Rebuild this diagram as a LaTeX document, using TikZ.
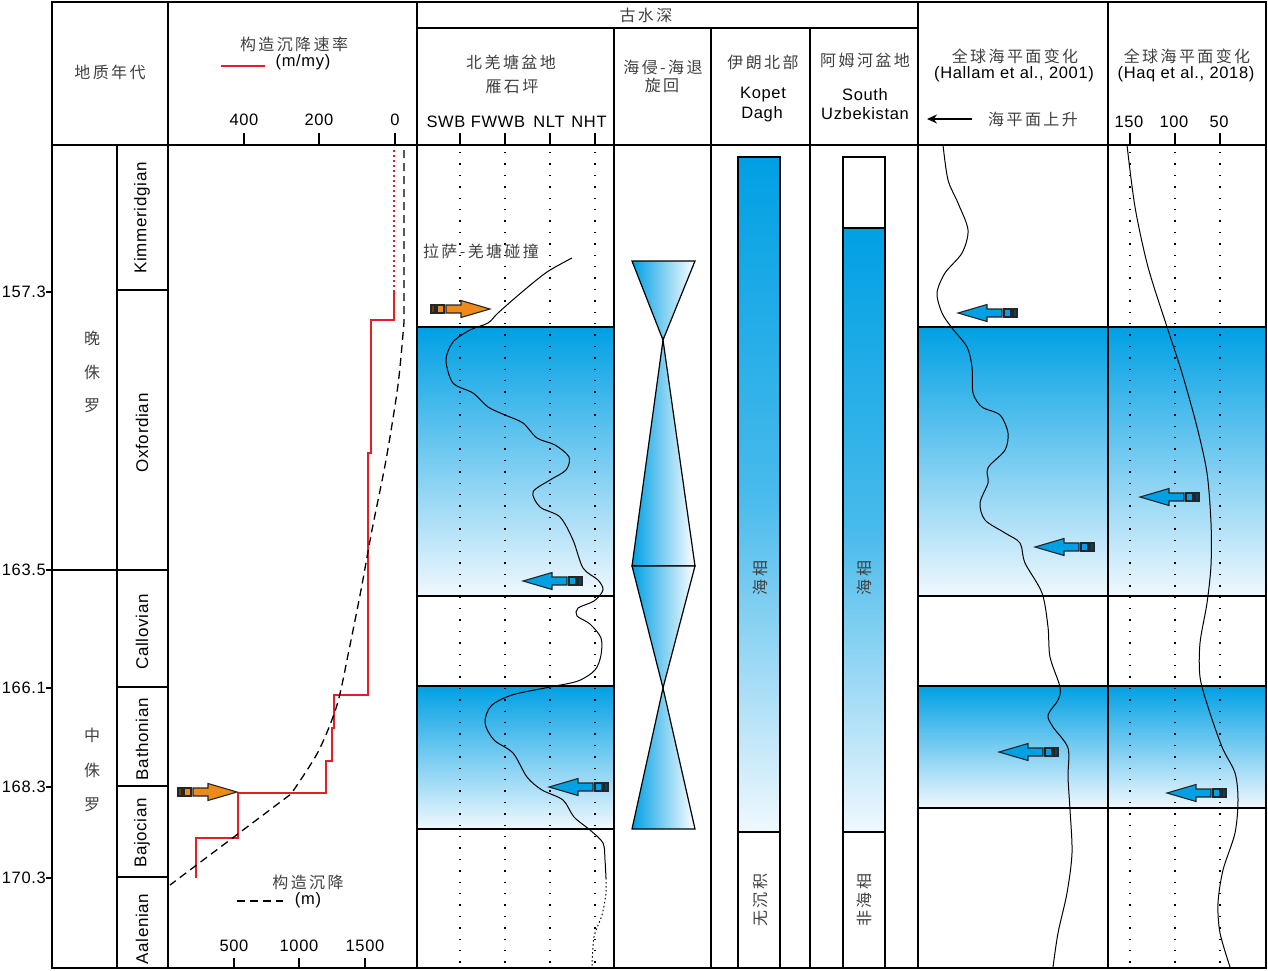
\documentclass[tikz,border=0pt]{standalone}
\usepackage{fontspec}
\setmainfont{Liberation Sans}[LetterSpace=4]
\newfontfamily\cjk{Noto Sans CJK SC}[LetterSpace=15]
\usetikzlibrary{arrows.meta}
\definecolor{seablue}{RGB}{0,160,228}
\definecolor{paleblue}{RGB}{240,248,254}
\definecolor{shiftorange}{RGB}{236,138,26}
\definecolor{ratered}{RGB}{226,30,40}

\begin{document}
\begin{tikzpicture}[x=1pt,y=-1pt,
  frame/.style={line width=2.6pt},
  rule/.style={line width=1.2pt},
  dotline/.style={line width=1.4pt, dash pattern=on 1.4pt off 10pt},
  curve/.style={line width=1pt},
  lab/.style={font=\fontsize{16.5}{18}\selectfont, inner sep=0pt},
  zh/.style={font=\cjk\fontsize{16}{18}\selectfont, text=black!75, inner sep=0pt},
  stage/.style={font=\fontsize{17}{19}\selectfont, rotate=90, inner sep=0pt},
  band/.style={top color=seablue, bottom color=paleblue},
  bar/.style={draw, rule, top color=seablue, bottom color=paleblue, middle color=seablue!70!paleblue},
  tri/.style={draw, rule, left color=seablue, right color=white},
  pics/shiftarrow/.style={code={
    \filldraw[fill=#1, draw=black!85, line width=1.1pt] (0,0) -- (29,-8.5) -- (29,-4) -- (44,-4) -- (44,4) -- (29,4) -- (29,8.5) -- cycle;
    \filldraw[fill=#1, draw=black!85, line width=1.1pt] (46,-4) rectangle (53,4);
    \filldraw[fill=#1!45!black, draw=black!85, line width=1.1pt] (55,-4) rectangle (59,4);
  }}]
\useasboundingbox (0,0) rectangle (1268,971);

\fill[band] (417,327) rectangle (614,596);
\fill[band] (417,686) rectangle (614,829);
\fill[band] (918,327) rectangle (1266,596);
\fill[band] (918,686) rectangle (1266,808);

\node[zh] (era-head) at (110,72) {地质年代};
\node[zh] (rate-head) at (294,44) {构造沉降速率};
\draw[ratered, line width=2pt] (221,66) -- (265,66);
\node[lab] (rate-unit) at (303,62) {(m/my)};
\foreach \v/\x in {400/244, 200/319, 0/395} {
  \node[lab] (rate-\v) at (\x,120) {\v};
  \draw[rule] (\x,133) -- (\x,145);
}
\node[zh] (depth-head) at (646,15) {古水深};
\node[zh] (basin-head) at (511,62) {北羌塘盆地};
\node[zh] (site-head) at (512,87) {雁石坪};
\foreach \t/\x in {SWB/446, FWWB/498, NLT/549, NHT/589}
  \node[lab] (env-\t) at (\x,122) {\t};
\node[zh] (cycle-head) at (663,67) {海侵-海退};
\node[zh] (cycle-head2) at (662,85) {旋回};
\node[zh] (iran-head) at (763,62) {伊朗北部};
\node[lab] (kopet) at (763,95) {Kopet};
\node[lab] (dagh) at (762,114) {Dagh};
\node[zh] (amu-head) at (865,60) {阿姆河盆地};
\node[lab] (south) at (865,95) {South};
\node[lab] (uzbek) at (865,114) {Uzbekistan};
\node[zh] (hallam-head) at (1015,56) {全球海平面变化};
\node[lab] (hallam-ref) at (1014,74) {(Hallam et al., 2001)};
\node[zh] (rise) at (1033,119) {海平面上升};
\coordinate (rise-tail) at (972,119);
\coordinate (rise-tip) at (927,119);
\draw[line width=1.8pt, -{Stealth[length=10pt,width=9pt]}] (rise-tail) -- (rise-tip);
\node[zh] (haq-head) at (1187,56) {全球海平面变化};
\node[lab] (haq-ref) at (1186,74) {(Haq et al., 2018)};
\foreach \v/\x in {150/1129, 100/1174, 50/1219}
  \node[lab] (haq-\v) at (\x,122) {\v};

\foreach \a/\y [count=\i] in {157.3/292, 163.5/570, 166.1/688, 168.3/787, 170.3/878} {
  \node[lab, anchor=east] (age-\i) at (46,\y) {\a};
  \draw[rule] (46,\y) -- (52,\y);
}
\foreach \c [count=\i] in {晚,侏,罗}
  \node[zh] (late-\i) at (92,304+34*\i) {\c};
\foreach \c [count=\i] in {中,侏,罗}
  \node[zh] (mid-\i) at (92,700+35*\i) {\c};
\foreach \s/\y in {Kimmeridgian/218, Oxfordian/433, Callovian/632, Bathonian/739, Bajocian/833, Aalenian/929}
  \node[stage] (\s) at (142,\y) {\s};
\foreach \y in {290, 687, 786, 877}
  \draw[rule] (117,\y) -- (168,\y);
\draw[rule] (52,570) -- (168,570);

\draw[ratered, line width=1.5pt, dash pattern=on 2pt off 3pt] (394,150) -- (394,290);
\draw[ratered, line width=2pt] (394,290) -- (394,320) -- (371,320) -- (371,453) -- (368,453) -- (368,695) -- (334,695) -- (334,728) -- (332,728) -- (332,761) -- (326,761) -- (326,793) -- (238,793) -- (238,838) -- (196,838) -- (196,878);
\draw[line width=1.3pt, dash pattern=on 8pt off 5pt] (404,150) -- plot[smooth, tension=0.5] coordinates {(404,322) (398,385) (386,460) (372,530) (361,590) (349,650) (337,705) (318,752) (291,794)} -- (170,885);
\node[zh] (sub-head) at (308,882) {构造沉降};
\draw[line width=1.3pt, dash pattern=on 8pt off 5pt] (237,901) -- (283,901);
\node[lab] (sub-unit) at (308,900) {(m)};
\foreach \v/\x in {500/234, 1000/299, 1500/365} {
  \node[lab] (depth-\v) at (\x,946) {\v};
  \draw[rule] (\x,958) -- (\x,968);
}

\foreach \x in {460, 505, 550, 595} {
  \draw[dotline] (\x,152) -- (\x,968);
  \draw[rule] (\x,133) -- (\x,145);
}
\draw[curve] plot[smooth, tension=0.5] coordinates {(572,258) (547,272) (522,292) (498,313) (488,323) (470,330) (453,342) (446,360) (453,383) (473,393) (488,407) (505,415) (523,423) (537,438) (555,445) (569,457) (566,470) (550,480) (533,492) (540,507) (560,517) (573,540) (583,568) (598,580) (603,590) (594,601) (578,608) (577,616) (590,624) (601,638) (601,655) (595,670) (578,681) (550,687) (512,695) (491,706) (485,723) (494,740) (513,753) (527,777) (542,790) (563,800) (574,817) (590,830) (603,843) (605,860) (606,878)};
\draw[curve, dash pattern=on 1.5pt off 2.5pt] plot[smooth, tension=0.5] coordinates {(606,878) (606,893) (602,915) (594,937) (592,967)};
\node[zh] (collision) at (481,251) {拉萨-羌塘碰撞};
\pic[xscale=-1] at (490,309) {shiftarrow=shiftorange};
\pic[xscale=-1] at (237,792) {shiftarrow=shiftorange};
\pic at (523,581) {shiftarrow=seablue};
\pic at (549,787) {shiftarrow=seablue};

\shadedraw[tri] (632,261) -- (695,261) -- (663,340) -- cycle;
\shadedraw[tri] (663,340) -- (695,566) -- (632,566) -- cycle;
\shadedraw[tri] (632,566) -- (695,566) -- (663,688) -- cycle;
\shadedraw[tri] (663,688) -- (695,829) -- (632,829) -- cycle;

\shadedraw[bar] (738,157) rectangle (780,832);
\draw[rule] (738,832) rectangle (780,968);
\draw[rule] (843,157) rectangle (885,228);
\shadedraw[bar] (843,228) rectangle (885,832);
\draw[rule] (843,832) rectangle (885,968);
\node[zh, rotate=90] (marine-1) at (760,578) {海相};
\node[zh, rotate=90] (marine-2) at (864,578) {海相};
\node[zh, rotate=90] (hiatus) at (760,900) {无沉积};
\node[zh, rotate=90] (nonmarine) at (864,900) {非海相};

\foreach \x in {1130, 1175, 1220} {
  \draw[dotline] (\x,152) -- (\x,968);
  \draw[rule] (\x,133) -- (\x,145);
}
\draw[curve] plot[smooth, tension=0.5] coordinates {(943,145) (948,180) (958,203) (968,230) (962,253) (945,273) (937,293) (942,313) (952,328) (967,347) (972,367) (973,393) (982,407) (1000,415) (1008,433) (1005,450) (990,465) (987,472) (988,483) (980,503) (985,520) (1005,533) (1020,543) (1025,563) (1042,593) (1048,627) (1050,657) (1060,687) (1058,700) (1048,715) (1053,727) (1068,748) (1068,777) (1070,810) (1072,853) (1067,893) (1058,933) (1053,967)};
\draw[curve] plot[smooth, tension=0.5] coordinates {(1127,145) (1135,207) (1148,267) (1167,327) (1182,373) (1197,427) (1207,473) (1211,523) (1211,565) (1207,603) (1200,643) (1200,677) (1208,707) (1222,747) (1235,773) (1238,800) (1235,833) (1223,870) (1218,903) (1220,933) (1230,967)};
\pic at (958,313) {shiftarrow=seablue};
\pic at (1035,547) {shiftarrow=seablue};
\pic at (999,752) {shiftarrow=seablue};
\pic at (1140,497) {shiftarrow=seablue};
\pic at (1167,793) {shiftarrow=seablue};

\foreach \y in {327, 596, 686, 829}
  \draw[rule] (417,\y) -- (614,\y);
\foreach \y in {327, 596, 686, 808}
  \draw[rule] (918,\y) -- (1266,\y);
\draw[rule] (117,145) -- (117,968);
\foreach \x in {168, 417, 918, 1108}
  \draw[rule] (\x,2) -- (\x,968);
\foreach \x in {614, 711, 810}
  \draw[rule] (\x,28) -- (\x,968);
\draw[rule] (417,28) -- (918,28);
\draw[line width=1.8pt] (52,145) -- (1266,145);
\draw[frame] (52,2) rectangle (1266,968);
\end{tikzpicture}
\end{document}
